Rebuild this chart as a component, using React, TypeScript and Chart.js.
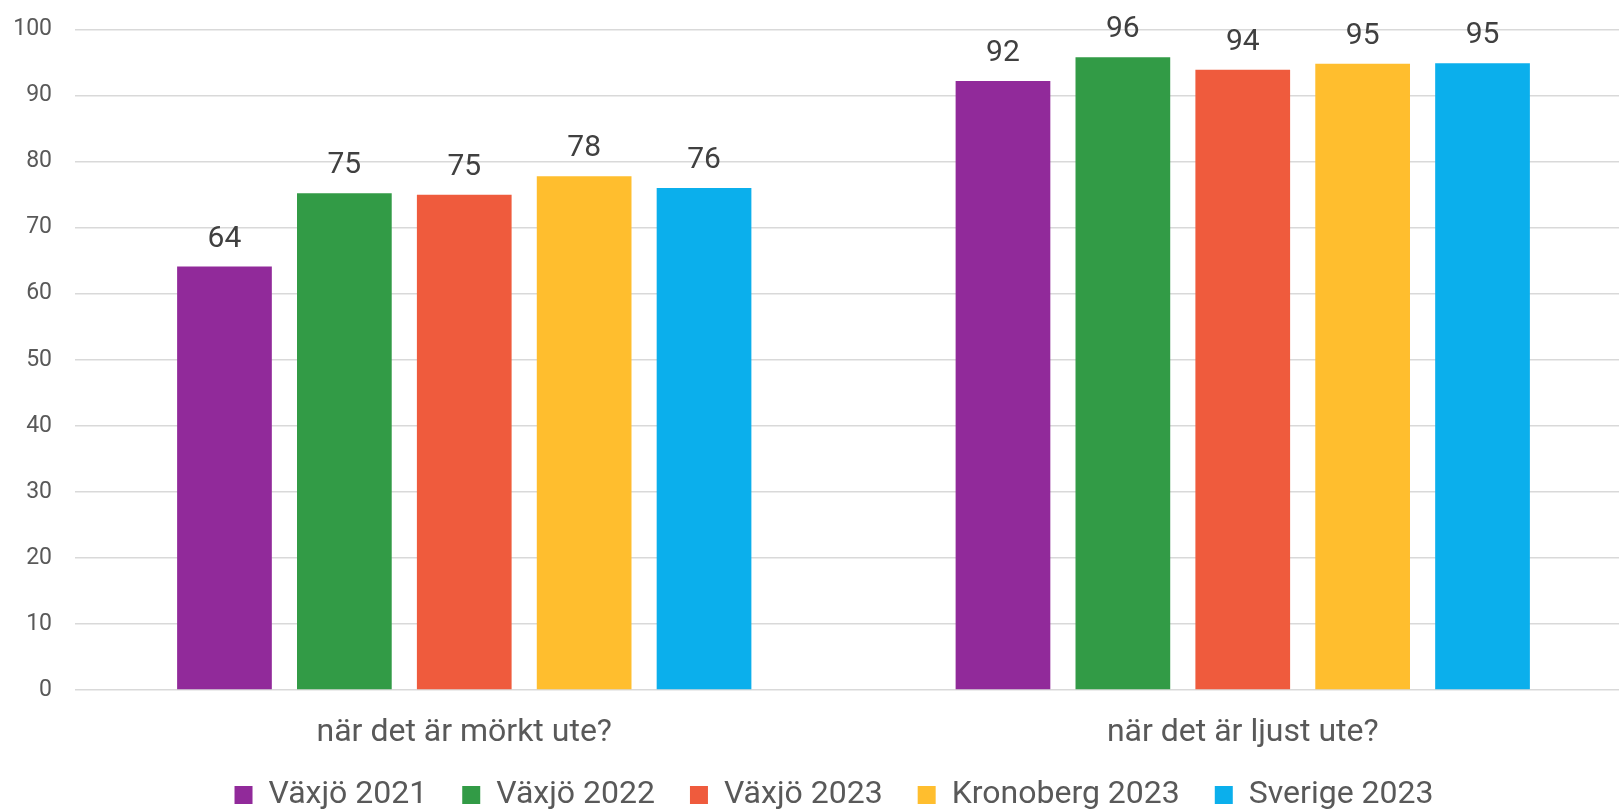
import React, { useEffect, useRef } from "react";
import { Chart, registerables } from "chart.js";

Chart.register(...registerables);

const categories = ["när det är mörkt ute?", "när det är ljust ute?"];
const seriesNames = ["Växjö 2021", "Växjö 2022", "Växjö 2023", "Kronoberg 2023", "Sverige 2023"];
const vaxjo2021 = [64.1, 92.2];
const vaxjo2022 = [75.2, 95.8];
const vaxjo2023 = [75.0, 93.9];
const kronoberg2023 = [77.8, 94.8];
const sverige2023 = [76.0, 94.9];
const seriesColors = ["#912A9A", "#329B46", "#EF5B3D", "#FFBE2E", "#0BAFEC"];
const yMin = 0;
const yMax = 100;
const yStep = 10;

const FONT = "Roboto, 'Noto Sans', sans-serif";

const dataLabels = {
  id: "dataLabels",
  afterDatasetsDraw(chart: any) {
    const ctx = chart.ctx;
    ctx.save();
    ctx.font = `30px ${FONT}`;
    ctx.fillStyle = "#404040";
    ctx.textAlign = "center";
    ctx.textBaseline = "alphabetic";
    chart.data.datasets.forEach((ds: any, i: number) => {
      const meta = chart.getDatasetMeta(i);
      if (!meta.visible) return;
      meta.data.forEach((bar: any, j: number) => {
        const v = ds.data[j];
        if (v == null) return;
        ctx.fillText(String(Math.round(v)), bar.x, bar.y - 20);
      });
    });
    ctx.restore();
  },
};

export default function App() {
  const ref = useRef<HTMLCanvasElement | null>(null);

  useEffect(() => {
    if (!ref.current) return;
    const allSeries = [vaxjo2021, vaxjo2022, vaxjo2023, kronoberg2023, sverige2023];
    const chart = new Chart(ref.current, {
      type: "bar",
      data: {
        labels: categories,
        datasets: allSeries.map((d, i) => ({
          label: seriesNames[i],
          data: d,
          backgroundColor: seriesColors[i],
          borderWidth: 0,
          categoryPercentage: 0.77,
          barPercentage: 0.79,
        })),
      },
      options: {
        responsive: false,
        animation: false,
        devicePixelRatio: 1,
        layout: { padding: { top: 29.5, left: 0, right: 0, bottom: 0 } },
        plugins: {
          legend: {
            position: "bottom",
            labels: {
              boxWidth: 18,
              boxHeight: 18,
              padding: 35,
              color: "#595959",
              font: { family: FONT, size: 32 },
            },
          },
          tooltip: { enabled: false },
        },
        scales: {
          x: {
            grid: { display: false },
            border: { display: false },
            ticks: {
              color: "#595959",
              font: { family: FONT, size: 32 },
              mirror: true,
              padding: -62.2,
            },
            afterFit: (s: any) => {
              s.height = 54;
            },
          },
          y: {
            min: yMin,
            max: yMax,
            border: { display: false },
            grid: { color: "#d9d9d9", lineWidth: 1.5, drawTicks: false },
            ticks: {
              stepSize: yStep,
              color: "#595959",
              font: { family: FONT, size: 23 },
              padding: 23,
            },
            afterFit: (s: any) => {
              s.width = 75;
              s.paddingTop = 0;
              s.paddingBottom = 0;
            },
          },
          y2: {
            position: "right",
            display: true,
            grid: { display: false },
            border: { display: false },
            ticks: { display: false },
            afterFit: (s: any) => {
              s.width = 36;
              s.paddingTop = 0;
              s.paddingBottom = 0;
            },
          },
        },
      },
      plugins: [dataLabels],
    } as any);
    return () => chart.destroy();
  }, []);

  return (
    <div
      style={{
        position: "fixed",
        left: 0,
        top: 0,
        width: 1619,
        height: 810,
        overflow: "hidden",
        background: "#ffffff",
      }}
    >
      <canvas ref={ref} width={1668} height={821} style={{ display: "block" }} />
    </div>
  );
}
